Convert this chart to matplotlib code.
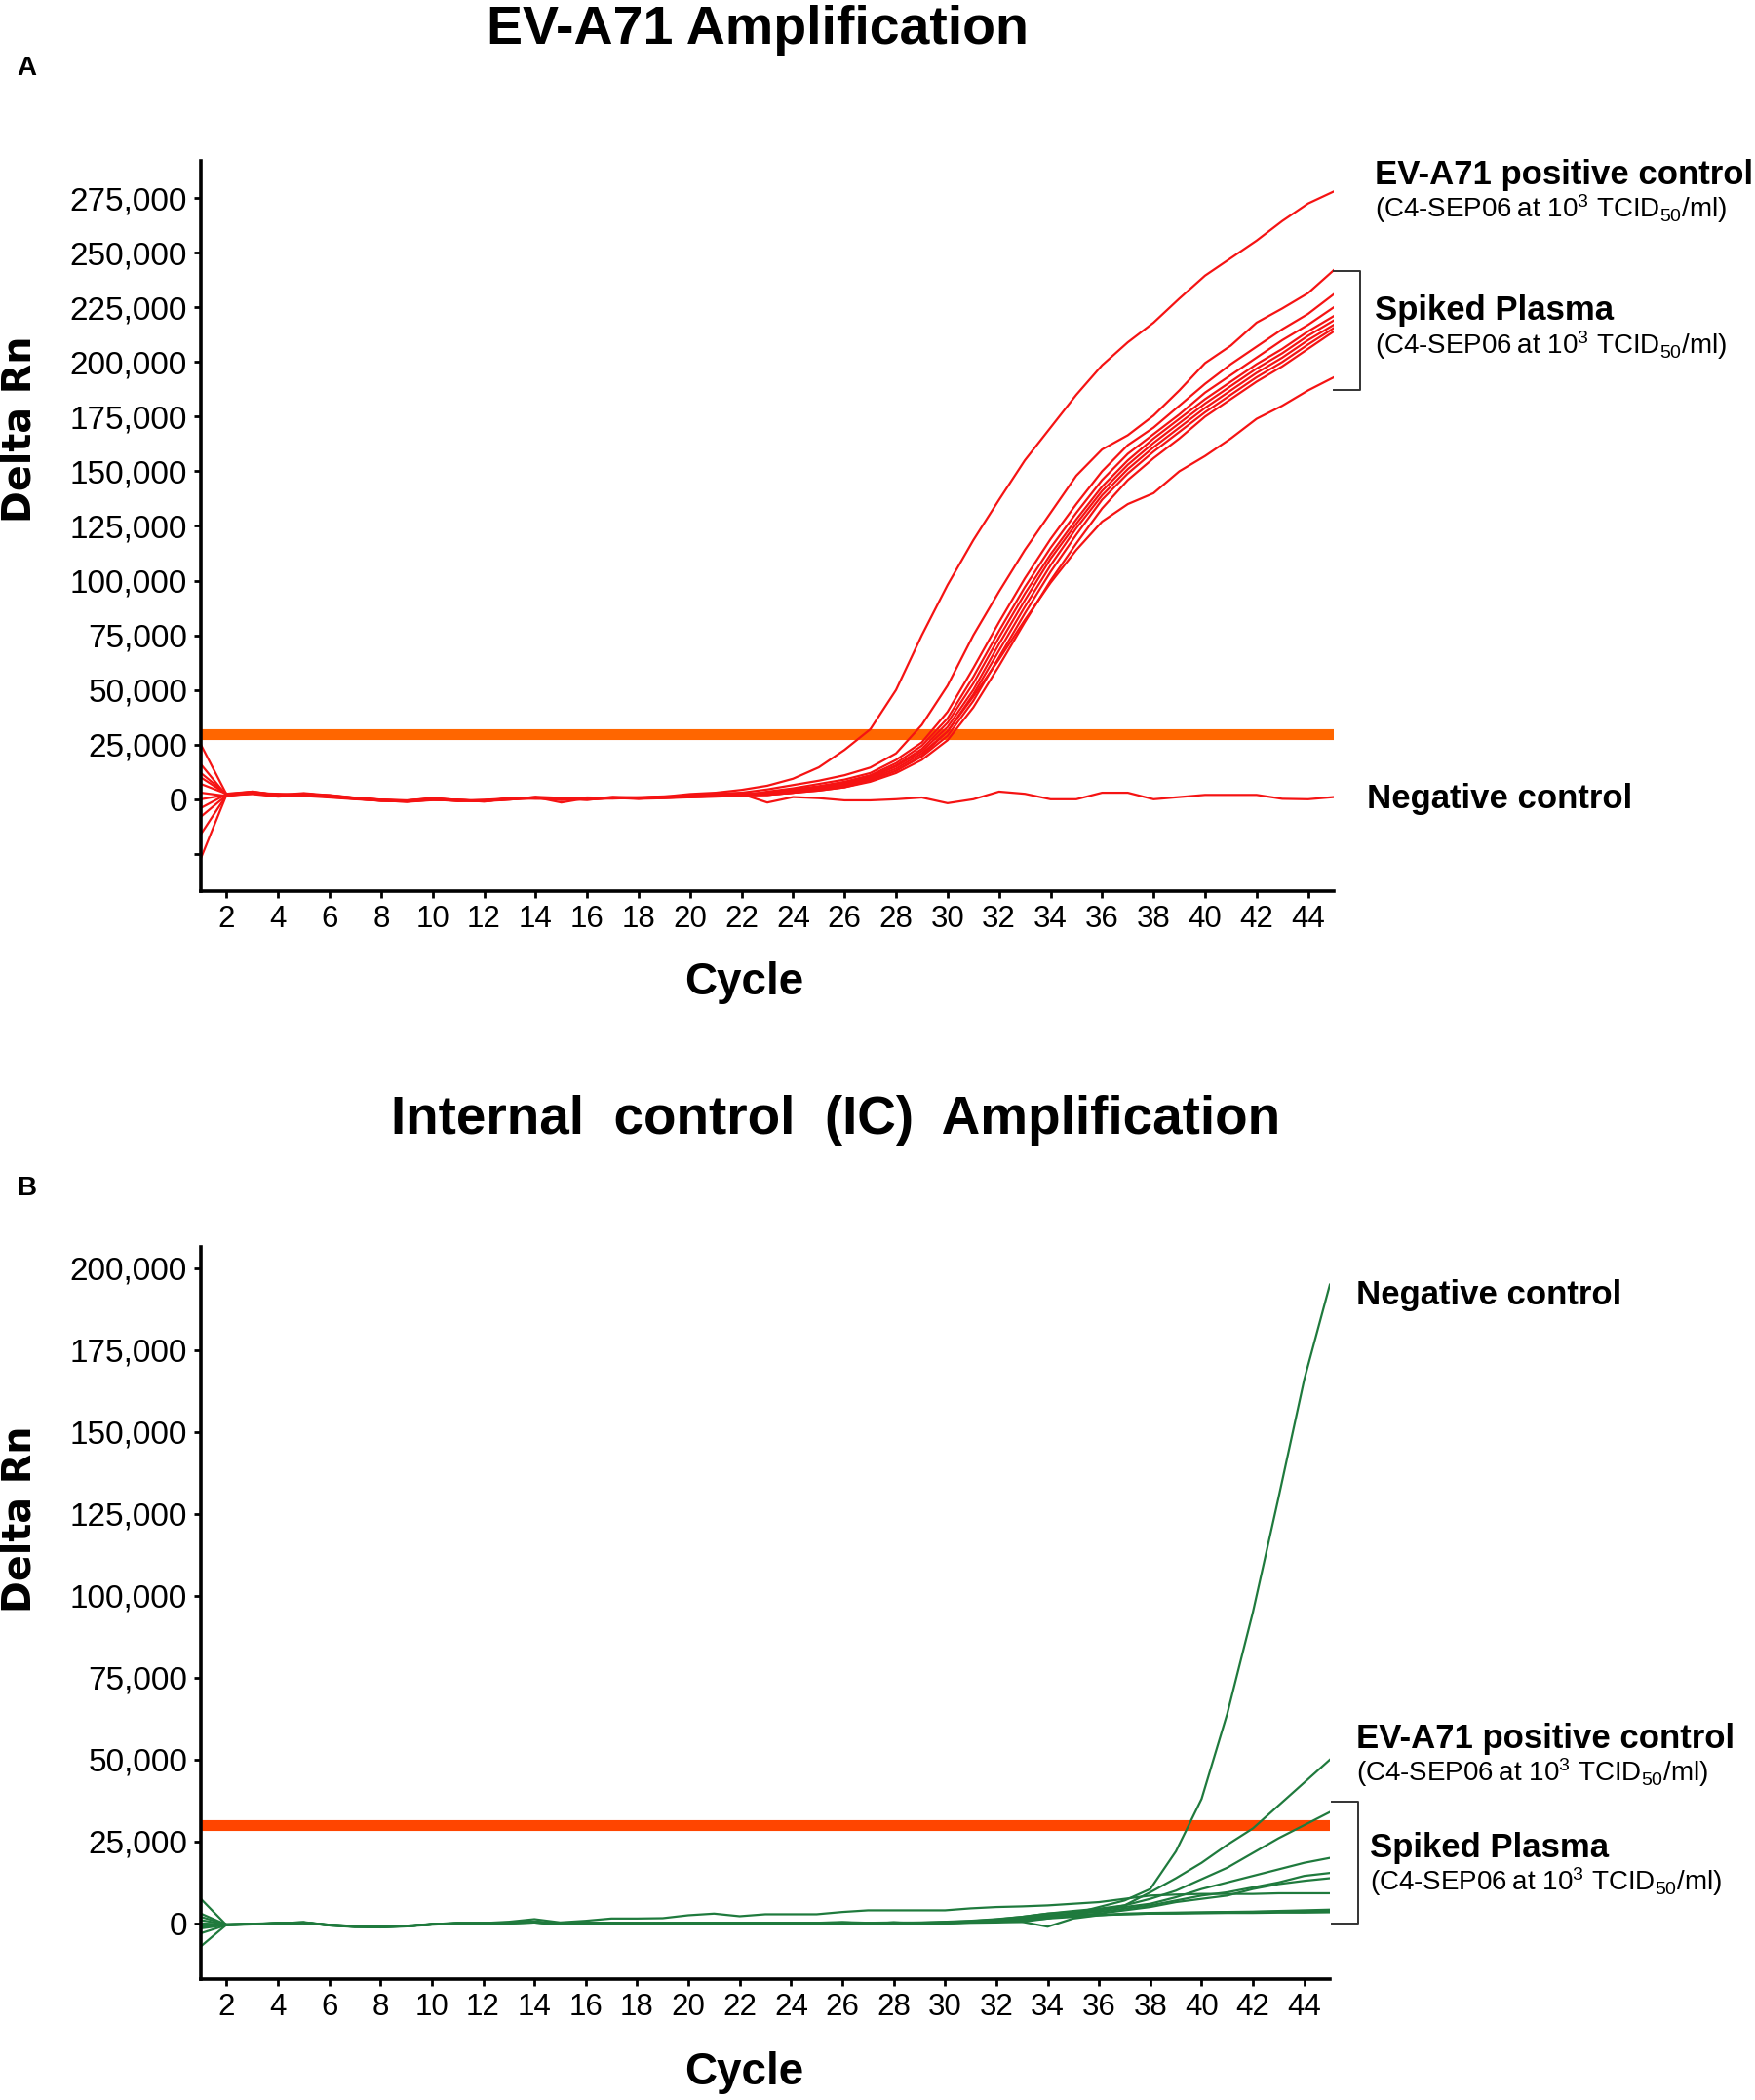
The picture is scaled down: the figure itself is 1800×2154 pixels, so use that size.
import numpy as np
import matplotlib
matplotlib.use("Agg")
import matplotlib.pyplot as plt
from matplotlib.ticker import FuncFormatter
from matplotlib.lines import Line2D

plt.rcParams["font.family"] = ["Liberation Sans", "DejaVu Sans"]
plt.rcParams["mathtext.default"] = "regular"

W, H = 1800, 2154
cycles = list(range(1, 46))

# ---- panel A: EV-A71 target, values in thousands of Delta Rn ----
a_positive_k = [12, 2.5, 3.5, 2.0, 2.8, 1.8, 0.6, -0.3, -0.8, 0.3, -0.5, -0.6, 0.2, 0.7, 0.4, 0.0, 0.9, 0.6, 1.2, 2.4, 3.0, 4.3,
                6.2, 9.4, 14.6, 22.6, 32, 50, 75, 98, 118.5, 137, 155, 170, 185, 198.5, 209, 218, 229, 239.5, 247.5, 255.5, 264.5, 272.5, 278]
a_negative_k = [-8, 1.8, 2.4, 1.2, 2.0, 1.9, 0.7, -0.2, -0.5, -0.1, -0.9, -0.3, 0.4, 0.9, -1.5, 0.5, 0.3, 0.7, 1.2, 1.5, 1.9, 2.4,
                -1.5, 1.0, 0.5, -0.5, -0.5, 0.0, 0.8, -1.8, 0.0, 3.5, 2.5, 0.0, 0.0, 3.0, 3.0, 0.0, 1.0, 2.0, 2.0, 2.0, 0.2, 0.0, 1.0]
a_spiked_k = [
    [25, 2.2, 3.5, 1.8, 2.6, 1.5, 0.4, -0.4, -0.9, 0.2, -0.6, -0.7, 0.1, 0.6, 0.3, -0.3, 0.8, 0.4, 0.9, 2.0, 2.6, 3.0,
     4.5, 6.5, 8.5, 11, 14.5, 21, 34, 52, 75, 95, 114, 131, 148, 160, 166.5, 175.5, 187, 199.5, 207.5, 218, 224.5, 231.5, 242],
    [7, 2.5, 3.0, 2.2, 1.5, 0.8, 0.0, -0.6, -1.2, -0.4, -0.2, -1.1, 0.5, 0.2, 0.1, 0.8, 0.6, 0.2, 0.5, 0.9, 1.2, 1.6,
     3.5, 5.0, 7.0, 9.0, 12, 18, 26, 40, 60, 81, 101, 119, 135, 150, 162, 170, 180, 190, 199, 207, 215, 222, 231],
    [3, 1.5, 2.8, 2.5, 1.9, 1.2, 0.3, -0.8, -0.6, 0.6, -0.4, -0.9, -0.2, 1.1, 0.6, 0.2, 1.0, 0.9, 1.3, 1.1, 1.4, 2.0,
     3.0, 4.5, 6.0, 8.0, 11, 16.5, 24.5, 37, 56, 77, 97, 115, 131, 146, 158, 167, 176, 186, 194, 202, 210, 217, 225],
    [0, 2.0, 3.2, 1.6, 2.3, 1.4, 0.5, -0.5, -1.0, 0.0, -0.7, -0.5, 0.3, 0.8, 0.2, -0.1, 0.7, 0.5, 1.0, 1.6, 2.2, 2.7,
     2.5, 4.0, 5.5, 7.5, 10.5, 15.5, 23, 35, 53, 74, 94, 112, 128, 143, 155, 165, 174, 183, 191, 199, 206, 214, 221],
    [-4, 2.3, 2.9, 2.0, 2.1, 1.0, 0.2, -0.7, -1.1, -0.2, -0.4, -0.8, 0.0, 0.5, 0.4, 0.3, 0.9, 0.3, 0.8, 1.4, 1.8, 2.5,
     3.0, 4.0, 5.0, 7.0, 10, 15, 22, 33, 50, 71, 91, 110, 126, 141, 153, 163, 172, 181, 189, 197, 204, 212, 219],
    [-16, 1.9, 2.6, 1.5, 2.4, 1.7, 0.6, -0.3, -0.7, 0.1, -0.8, -0.6, 0.2, 0.7, -0.4, 0.4, 0.5, 0.6, 1.1, 1.3, 1.7, 2.2,
     2.5, 3.5, 5.0, 6.5, 9.5, 14, 21, 31, 48, 68, 88, 107, 124, 139, 151, 161, 170, 179, 187, 195, 202, 210, 217],
    [-27, 2.1, 3.3, 1.9, 1.8, 1.3, 0.1, -0.6, -0.8, 0.3, -0.3, -0.9, 0.4, 0.4, 0.5, 0.1, 0.4, 0.8, 0.7, 1.0, 1.5, 1.9,
     2.0, 3.0, 4.5, 6.0, 9.0, 13, 19.5, 29, 45, 65, 85, 104, 121, 137, 149, 159, 168, 177, 185, 193, 200, 208, 215.5],
    [10, 2.4, 2.7, 2.3, 2.2, 1.1, 0.4, -0.2, -1.0, -0.3, -0.5, -0.4, 0.1, 0.9, 0.2, 0.6, 0.7, 0.4, 0.6, 1.2, 1.6, 2.1,
     2.0, 3.0, 4.0, 5.5, 8.0, 12, 18, 27, 42, 61, 81, 100, 117, 133, 146, 156, 165, 175, 183, 191, 198, 206, 214],
    [16, 1.7, 3.1, 1.4, 2.5, 1.6, 0.5, -0.4, -0.6, 0.4, -0.6, -0.7, -0.1, 0.6, 0.1, -0.2, 0.6, 0.3, 0.9, 1.1, 1.3, 1.7,
     2.0, 3.0, 4.0, 5.5, 8.5, 13, 20, 31, 47, 64, 82, 99, 114, 127, 135, 140, 150, 157, 165, 174, 180, 187, 193],
]
a_threshold = 30000

# ---- panel B: internal control, values in thousands of Delta Rn ----
b_negative_k = [3, -0.4, -0.2, 0.0, 0.3, -0.5, -0.9, -1.0, -0.8, -0.3, 0.0, 0.0, 0.2, 0.5, -0.2, 0.1, 0.0, 0.0, 0.0, 0.1, 0.0, 0.2,
                0.1, 0.0, 0.2, 0.4, 0.2, 0.3, 0.0, 0.0, 0.4, 0.6, 0.5, 1.5, 3.0, 5.0, 7.0, 10.5, 22, 38, 64, 95, 130, 166, 195]
b_positive_k = [-1.5, -0.5, -0.3, 0.1, 0.2, -0.6, -1.0, -0.9, -0.7, -0.2, 0.1, -0.1, 0.1, 0.3, -0.1, 0.2, 0.1, -0.1, 0.1, 0.0, 0.1, 0.0,
                0.2, 0.1, 0.0, 0.3, 0.1, 0.2, 0.1, 0.3, 0.5, 0.8, 1.0, 2.0, 3.0, 4.0, 5.5, 9.5, 13.8, 18.5, 24, 29, 36, 43, 50]
b_spiked_k = [
    [0, -0.3, -0.1, 0.0, 0.2, -0.4, -0.8, -1.0, -0.9, -0.4, 0.0, 0.1, 0.2, 0.4, -0.3, 0.0, 0.1, 0.0, -0.1, 0.0, 0.1, 0.1,
     0.0, 0.1, 0.2, 0.3, 0.1, 0.2, 0.3, 0.4, 0.7, 1.2, 2.0, 3.0, 3.8, 4.5, 5.5, 7.5, 10, 13.5, 17, 21.5, 26, 30, 34],
    [7.5, -0.5, -0.2, 0.1, 0.3, -0.6, -1.1, -1.2, -0.8, -0.3, -0.1, 0.0, 0.3, 0.6, -0.2, 0.1, 0.0, 0.1, 0.0, 0.1, 0.0, 0.1,
     0.1, 0.0, 0.1, 0.2, 0.2, 0.1, 0.2, 0.5, 0.8, 1.3, 2.0, 3.0, 3.5, 4.0, 5.0, 6.0, 8.0, 10.5, 12.5, 14.5, 16.5, 18.5, 20],
    [-7, -0.4, -0.3, 0.0, 0.2, -0.5, -0.9, -1.1, -0.9, -0.2, 0.0, 0.1, 0.1, 0.4, -0.1, 0.0, 0.0, 0.1, 0.1, 0.0, 0.2, 0.0,
     0.2, 0.1, 0.1, 0.2, 0.0, 0.3, 0.2, 0.3, 0.6, 1.0, 1.5, 2.5, 3.0, 3.5, 4.5, 5.5, 7.0, 8.5, 9.5, 11, 12.5, 14.5, 15.4],
    [1, -0.3, -0.2, 0.1, 0.1, -0.4, -0.8, -0.9, -0.8, -0.3, 0.1, 0.0, 0.2, 0.5, -0.2, 0.2, 0.1, 0.0, 0.0, 0.1, 0.1, 0.1,
     0.0, 0.2, 0.1, 0.1, 0.2, 0.2, 0.1, 0.3, 0.4, 0.8, 1.2, 2.0, 2.5, 3.0, 4.0, 5.0, 6.5, 7.5, 8.5, 10.5, 12, 13, 13.8],
    [-0.5, -0.4, -0.2, 0.0, 0.4, -0.5, -1.0, -1.0, -0.7, -0.3, 0.0, 0.1, 0.5, 1.3, 0.3, 0.8, 1.5, 1.5, 1.6, 2.5, 3.0, 2.2,
     2.8, 2.8, 2.8, 3.5, 4.0, 4.0, 4.0, 4.0, 4.6, 5.0, 5.2, 5.5, 6.0, 6.5, 7.5, 8.5, 8.8, 9.0, 9.0, 9.0, 9.2, 9.2, 9.2],
    [-3, -0.5, -0.2, 0.0, 0.2, -0.6, -1.0, -1.1, -0.8, -0.3, 0.0, 0.0, 0.1, 0.3, -0.2, 0.0, 0.0, 0.0, 0.0, 0.0, 0.1, 0.0,
     0.0, 0.1, 0.0, 0.1, 0.0, 0.3, 0.1, 0.0, 0.2, 0.3, 0.5, -1.0, 1.5, 2.5, 3.0, 3.2, 3.3, 3.4, 3.5, 3.5, 3.6, 3.7, 3.8],
    [2, -0.3, -0.1, 0.1, 0.3, -0.4, -0.9, -1.0, -0.9, -0.2, 0.1, 0.0, 0.2, 0.4, -0.1, 0.1, 0.1, 0.0, 0.1, 0.0, 0.0, 0.1,
     0.1, 0.0, 0.2, 0.1, 0.1, 0.2, 0.2, 0.2, 0.3, 0.5, 0.9, 1.5, 2.0, 2.5, 2.8, 3.0, 3.0, 3.1, 3.2, 3.2, 3.3, 3.3, 3.4],
    [-1, -0.4, -0.2, 0.0, 0.2, -0.5, -0.8, -1.0, -0.8, -0.3, 0.0, 0.1, 0.1, 0.3, -0.2, 0.1, 0.0, 0.1, 0.0, 0.1, 0.0, 0.0,
     0.0, 0.1, 0.1, 0.0, 0.1, 0.1, 0.0, 0.2, 0.3, 0.6, 1.0, 1.8, 2.2, 2.6, 2.8, 3.0, 3.2, 3.3, 3.5, 3.6, 3.8, 4.0, 4.2],
]
b_threshold = 30000

RED = "#f51313"
GREEN = "#1f7a3d"


def fx(x):
    return x / W


def fy(y):
    return 1 - y / H


def thousands(v, pos):
    if v < 0:
        return ""
    return f"{int(round(v)):,}"


def style_axes(ax, ylim, yticks, xfs=22.5, yfs=24):
    ax.set_xlim(1, 45)
    ax.set_ylim(*ylim)
    ax.set_xticks(range(2, 45, 2))
    ax.set_yticks(yticks)
    ax.yaxis.set_major_formatter(FuncFormatter(thousands))
    for side in ("top", "right"):
        ax.spines[side].set_visible(False)
    for side in ("left", "bottom"):
        ax.spines[side].set_linewidth(2.6)
    ax.tick_params(axis="both", direction="out", length=5, width=2, pad=5)
    ax.tick_params(axis="x", labelsize=xfs)
    ax.tick_params(axis="y", labelsize=yfs)


fig = plt.figure(figsize=(W / 100, H / 100), dpi=100)

# panel A
axA = fig.add_axes([fx(206), fy(914), (1368 - 206) / W, (914 - 165) / H])
axA.axhline(a_threshold, color="#ff6600", lw=8, zorder=1)
for vals in a_spiked_k:
    axA.plot(cycles, np.array(vals) * 1000, color=RED, lw=1.6, zorder=2)
axA.plot(cycles, np.array(a_positive_k) * 1000, color=RED, lw=1.6, zorder=2)
axA.plot(cycles, np.array(a_negative_k) * 1000, color=RED, lw=1.6, zorder=2)
style_axes(axA, (-42000, 292000), range(-25000, 275001, 25000))

# panel B
axB = fig.add_axes([fx(206), fy(2030), (1364 - 206) / W, (2030 - 1279) / H])
axB.axhline(b_threshold, color="#ff4500", lw=8, zorder=1)
for vals in b_spiked_k:
    axB.plot(cycles, np.array(vals) * 1000, color=GREEN, lw=1.6, zorder=2)
axB.plot(cycles, np.array(b_positive_k) * 1000, color=GREEN, lw=1.6, zorder=2)
axB.plot(cycles, np.array(b_negative_k) * 1000, color=GREEN, lw=1.6, zorder=2)
style_axes(axB, (-17000, 206500), range(0, 200001, 25000))

# titles and panel letters
fig.text(fx(777), fy(45), "EV-A71 Amplification", ha="center", va="baseline",
         fontsize=40, fontweight="bold")
fig.text(fx(857), fy(1163), "Internal  control  (IC)  Amplification", ha="center", va="baseline",
         fontsize=39.5, fontweight="bold")
fig.text(fx(17), fy(77), "A", ha="left", va="baseline", fontsize=20, fontweight="bold")
fig.text(fx(17), fy(1226), "B", ha="left", va="baseline", fontsize=20, fontweight="bold")

# axis labels
for yc in (440, 1558):
    fig.text(fx(21), fy(yc), "Delta Rn", rotation=90, ha="center", va="center",
             fontsize=28.5, fontweight="bold", family="DejaVu Sans")
for yb in (1020, 2138):
    fig.text(fx(763), fy(yb), "Cycle", ha="center", va="baseline", fontsize=33, fontweight="bold")

sub = "(C4-SEP06\u2009at 10$^{3}$ TCID$_{50}$/ml)"


def label(x, y, text, bold=True):
    fig.text(fx(x), fy(y), text, ha="left", va="baseline",
             fontsize=25 if bold else 20, fontweight="bold" if bold else "normal")


def bracket(x0, x1, y0, y1):
    fig.add_artist(Line2D([fx(x0), fx(x1), fx(x1), fx(x0)], [fy(y0), fy(y0), fy(y1), fy(y1)],
                          color="#333333", lw=1.4))


# panel A annotations
label(1410, 189, "EV-A71 positive control")
label(1410, 223, sub, bold=False)
label(1410, 328, "Spiked Plasma")
label(1410, 363, sub, bold=False)
label(1402, 829, "Negative control")
bracket(1368, 1395, 278, 400)

# panel B annotations
label(1391, 1338, "Negative control")
label(1391, 1793, "EV-A71 positive control")
label(1391, 1827, sub, bold=False)
label(1405, 1905, "Spiked Plasma")
label(1405, 1939, sub, bold=False)
bracket(1366, 1393, 1848, 1973)

fig.savefig("out.png", dpi=100)
